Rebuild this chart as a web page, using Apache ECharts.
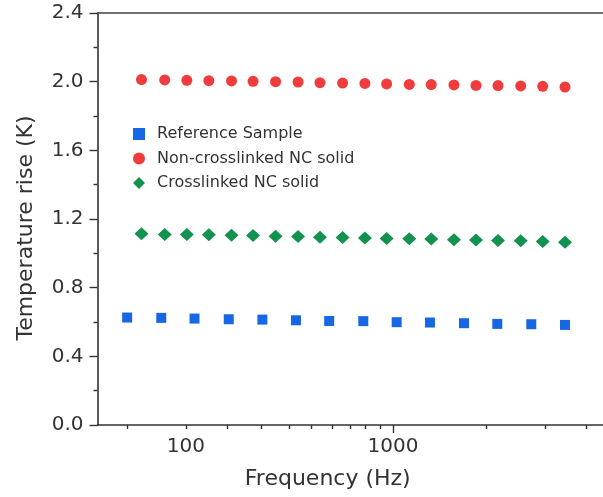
<!DOCTYPE html>
<html>
<head>
<meta charset="utf-8">
<script src="https://cdn.jsdelivr.net/npm/echarts@6/dist/echarts.min.js"></script>
<style>
  html, body { margin: 0; padding: 0; background: #fff; }
  #chart { width: 603px; height: 497px; }
</style>
</head>
<body>
<div id="chart"></div>
<script>
// Measurement frequencies (Hz)
const freqRef = [52, 76, 110, 161, 234, 340, 492, 719, 1042, 1509, 2203, 3191, 4657, 6777];
const freqNC = [61, 79, 101, 129, 166, 211, 271, 348, 444, 571, 732, 932, 1199, 1531, 1971, 2518, 3216, 4140, 5288, 6777];

// Temperature rise (K)
const riseReference = [0.626, 0.624, 0.620, 0.616, 0.614, 0.610, 0.606, 0.605, 0.599, 0.597, 0.593, 0.589, 0.587, 0.583];
const riseNonCrosslinked = [2.012, 2.010, 2.008, 2.006, 2.004, 2.002, 2.000, 1.998, 1.994, 1.992, 1.990, 1.987, 1.984, 1.983, 1.981, 1.978, 1.977, 1.975, 1.973, 1.969];
const riseCrosslinked = [1.114, 1.110, 1.110, 1.108, 1.106, 1.104, 1.100, 1.098, 1.094, 1.092, 1.090, 1.086, 1.085, 1.083, 1.079, 1.077, 1.075, 1.073, 1.069, 1.065];

// Axis ticks and labels
const xLabelValues = [100, 1000];
const xMajorTicks = [1000];
const xMinorTicks = [52, 100, 159, 232, 316, 402, 507, 620, 732, 865, 2836, 5424, 8624];
const xMin = 37.4;
const xMax = 10340;
const yMin = 0, yMax = 2.4, yStep = 0.4;

const seriesNames = ['Reference Sample', 'Non-crosslinked NC solid', 'Crosslinked NC solid'];

const pair = (xs, ys) => xs.map((x, i) => [x, ys[i]]);

const axisColor = '#333';
const font = 'DejaVu Sans';

const chart = echarts.init(document.getElementById('chart'), null, { renderer: 'canvas' });
chart.setOption({
  animation: false,
  backgroundColor: '#fff',
  grid: { left: 97.5, top: 13, right: 0, bottom: 72 },
  legend: {
    orient: 'vertical',
    left: 128,
    top: 121,
    itemWidth: 12,
    itemHeight: 12,
    itemGap: 8.5,
    textStyle: { fontFamily: font, fontSize: 16, color: '#333', padding: [0, 0, 0, 7] },
    data: [
      { name: seriesNames[0], icon: 'rect', itemStyle: { color: '#1766e3', opacity: 1 } },
      { name: seriesNames[1], icon: 'circle', itemStyle: { color: '#f03c3c', opacity: 1 } },
      { name: seriesNames[2], icon: 'diamond', itemStyle: { color: '#13924f', opacity: 1 } }
    ]
  },
  xAxis: [
    {
      type: 'log',
      logBase: 10,
      min: xMin,
      max: xMax,
      name: 'Frequency (Hz)',
      nameLocation: 'middle',
      nameGap: 43,
      nameTextStyle: { fontFamily: font, fontSize: 22, color: '#333', padding: [0, 45, 0, 0] },
      axisLine: { show: true, lineStyle: { color: axisColor, width: 1.6 } },
      axisTick: { show: true, inside: false, length: 8, customValues: xMajorTicks, lineStyle: { color: axisColor, width: 1.4 } },
      axisLabel: { show: true, customValues: xLabelValues, margin: 12, fontFamily: font, fontSize: 20, color: '#333', formatter: v => String(Math.round(v)) },
      splitLine: { show: false },
      minorTick: { show: false }
    },
    {
      type: 'log',
      logBase: 10,
      min: xMin,
      max: xMax,
      position: 'bottom',
      axisLine: { show: false },
      axisTick: { show: true, inside: false, length: 4, customValues: xMinorTicks, lineStyle: { color: axisColor, width: 1.4 } },
      axisLabel: { show: false },
      splitLine: { show: false }
    },
    {
      type: 'log',
      logBase: 10,
      min: xMin,
      max: xMax,
      position: 'top',
      axisLine: { show: true, lineStyle: { color: '#444', width: 1.6 } },
      axisTick: { show: false },
      axisLabel: { show: false },
      splitLine: { show: false }
    }
  ],
  yAxis: {
    type: 'value',
    min: yMin,
    max: yMax,
    interval: yStep,
    name: 'Temperature rise (K)',
    nameLocation: 'middle',
    nameGap: 60,
    nameTextStyle: { fontFamily: font, fontSize: 22, color: '#333', padding: [0, 18, 0, 0] },
    axisLine: { show: true, lineStyle: { color: axisColor, width: 1.6 } },
    axisTick: { show: true, inside: false, length: 8, lineStyle: { color: axisColor, width: 1.4 } },
    minorTick: { show: true, splitNumber: 2, length: 4, lineStyle: { color: axisColor, width: 1.4 } },
    axisLabel: { margin: 14, fontFamily: font, fontSize: 20, color: '#333', formatter: v => v.toFixed(1) },
    splitLine: { show: false }
  },
  series: [
    {
      name: seriesNames[0],
      type: 'scatter',
      xAxisIndex: 0,
      symbol: 'rect',
      symbolSize: 10,
      itemStyle: { color: '#1766e3', opacity: 1 },
      data: pair(freqRef, riseReference)
    },
    {
      name: seriesNames[1],
      type: 'scatter',
      xAxisIndex: 0,
      symbol: 'circle',
      symbolSize: 11,
      itemStyle: { color: '#f03c3c', opacity: 1 },
      data: pair(freqNC, riseNonCrosslinked)
    },
    {
      name: seriesNames[2],
      type: 'scatter',
      xAxisIndex: 0,
      symbol: 'diamond',
      symbolSize: [14, 13],
      itemStyle: { color: '#13924f', opacity: 1 },
      data: pair(freqNC, riseCrosslinked)
    }
  ]
});
</script>
</body>
</html>
